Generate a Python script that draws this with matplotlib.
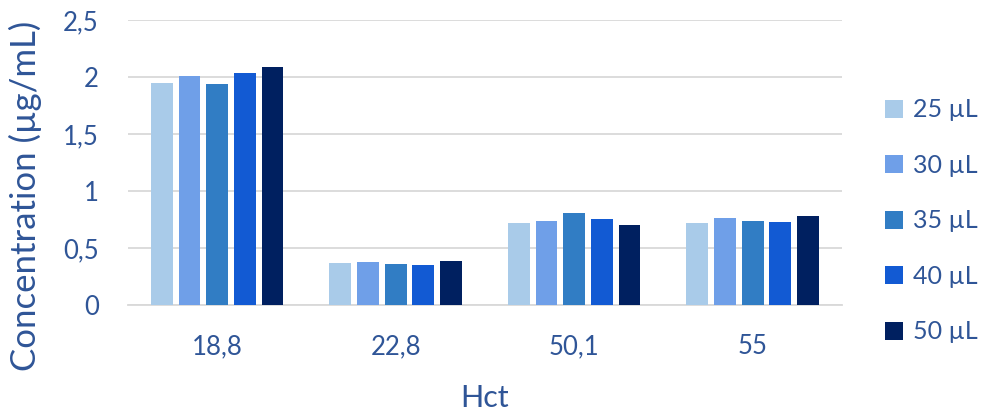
import numpy as np
import matplotlib
matplotlib.use("Agg")
import matplotlib.pyplot as plt

plt.rcParams["font.family"] = ["Lato", "DejaVu Sans"]

groups = ["18,8", "22,8", "50,1", "55"]
series = ["25 µL", "30 µL", "35 µL", "40 µL", "50 µL"]
values = {
    "25 µL": [1.95, 0.37, 0.72, 0.72],
    "30 µL": [2.01, 0.38, 0.74, 0.76],
    "35 µL": [1.94, 0.36, 0.81, 0.74],
    "40 µL": [2.03, 0.35, 0.75, 0.73],
    "50 µL": [2.09, 0.39, 0.70, 0.78],
}
colors = ["#A9CBE9", "#6F9FE8", "#317DC4", "#125AD3", "#002060"]
text_color = "#2F5597"

fig = plt.figure(figsize=(9.86, 4.12), dpi=100)
ax = fig.add_axes([0.1298, 0.2597, 0.724, 0.692])

x = np.arange(len(groups))
step = 0.155
width = 0.122
for i, s in enumerate(series):
    ax.bar(x + (i - 2) * step, values[s], width, color=colors[i], label=s, zorder=3)

ax.set_xlim(-0.5, len(groups) - 0.5)
ax.set_ylim(0, 2.5)
ax.set_yticks([0, 0.5, 1, 1.5, 2, 2.5])
ax.set_yticklabels(["0", "0,5", "1", "1,5", "2", "2,5"])
ax.set_xticks(x)
ax.set_xticklabels(groups)
ax.yaxis.grid(True, color="#D9D9D9", linewidth=1.3, zorder=0)
for sp in ["top", "right", "left"]:
    ax.spines[sp].set_visible(False)
ax.spines["bottom"].set_color("#D9D9D9")
ax.spines["bottom"].set_linewidth(1.3)
ax.tick_params(axis="both", length=0, labelsize=18.5, colors=text_color)
ax.tick_params(axis="y", pad=21)
ax.tick_params(axis="x", pad=21)

ax.set_ylabel("Concentration (µg/mL)", fontsize=25, color=text_color)
ax.yaxis.set_label_coords(-0.12, 0.382)
ax.set_xlabel("Hct", fontsize=22, color=text_color, va="baseline")
ax.xaxis.set_label_coords(0.5, -0.358)

fig.legend(loc="center left", bbox_to_anchor=(0.8976, 0.4636), frameon=False,
           fontsize=18, labelcolor=text_color, handlelength=0.72, handleheight=0.72,
           labelspacing=1.3, handletextpad=0.4, borderpad=0, borderaxespad=0)

plt.savefig("out.png", dpi=100)
